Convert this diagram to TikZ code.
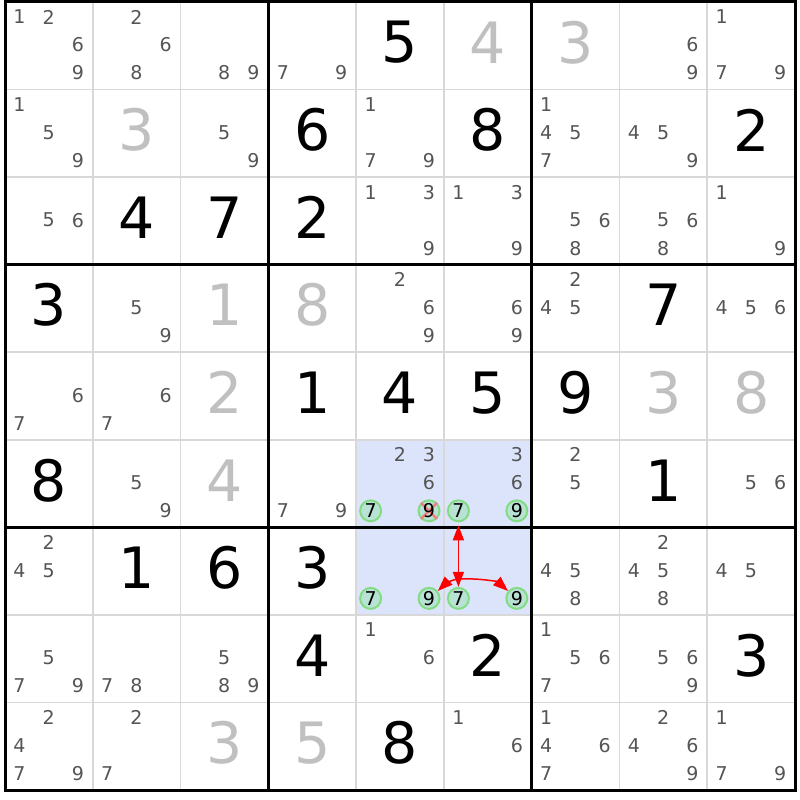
\documentclass[tikz,border=0pt]{standalone}
\usepackage{fontspec}
\setmainfont{DejaVu Sans}
\usetikzlibrary{arrows.meta,calc}
\definecolor{candc}{RGB}{85,85,85}
\definecolor{solvedc}{RGB}{192,192,192}
\definecolor{thinc}{RGB}{216,216,216}
\definecolor{hlc}{RGB}{220,228,252}
\definecolor{cfillc}{RGB}{184,226,212}
\definecolor{cringc}{RGB}{130,220,130}
\definecolor{xredc}{RGB}{240,128,128}
\tikzset{
  givenst/.style={inner sep=0pt, font=\fontsize{57}{57}\selectfont, text=black},
  solvedst/.style={inner sep=0pt, font=\fontsize{57}{57}\selectfont, text=solvedc},
  candst/.style={inner sep=0pt, font=\fontsize{19}{19}\selectfont, text=candc},
  ringst/.style={circle, inner sep=0pt, minimum size=21pt, draw=cringc, line width=2pt, fill=cfillc},
  ringdig/.style={inner sep=0pt, font=\fontsize{19}{19}\selectfont, text=black},
  xst/.style={draw=xredc, line width=2.5pt},
  thinst/.style={draw=thinc, line width=1.8pt},
  thickst/.style={draw=black, line width=3pt},
  redarr/.style={draw=red, line width=1.5pt, -{Triangle[length=15pt,width=11pt]}},
  redarrb/.style={draw=red, line width=1.5pt, {Triangle[length=15pt,width=11pt]}-{Triangle[length=15pt,width=11pt]}}
}
\newcommand\SudG[3]{%
  \pgfmathsetmacro\px{5+(#2-0.5)*87.78}%
  \pgfmathsetmacro\py{2+(#1-1)*87.56+40.5}%
  \node[givenst] (g#1#2) at (\px,\py) {#3};}
\newcommand\SudS[3]{%
  \pgfmathsetmacro\px{5+(#2-0.5)*87.78}%
  \pgfmathsetmacro\py{2+(#1-1)*87.56+40.5}%
  \node[solvedst] (s#1#2) at (\px,\py) {#3};}
\newcommand\SudC[3]{%
  \foreach \d in {#3}{%
    \pgfmathsetmacro\px{5+(#2-1)*87.78+14.5+29.2*mod(\d-1,3)}%
    \pgfmathsetmacro\py{2+(#1-1)*87.56+15+28*floor((\d-1)/3)}%
    \node[candst] (c#1#2n\d) at (\px,\py) {\d};}}
\newcommand\SudRing[3]{%
  \pgfmathsetmacro\px{5+(#2-1)*87.78+14.5+29.2*mod(#3-1,3)}%
  \pgfmathsetmacro\py{2+(#1-1)*87.56+15+28*floor((#3-1)/3)}%
  \node[ringst] (k#1#2n#3) at (\px,\py) {};}
\newcommand\SudRingDig[3]{%
  \node[ringdig] (d#1#2n#3) at (k#1#2n#3.center) {#3};}
\begin{document}
\begin{tikzpicture}[x=1pt,y=-1pt]
\useasboundingbox (0,0) rectangle (800,800);
\fill[white] (0,0) rectangle (800,800);
% highlighted cells
\fill[hlc] (5+4*87.78,2+5*87.56) rectangle (5+6*87.78,2+7*87.56);
% thin lines
\foreach \i in {1,2,4,5,7,8}{
  \draw[thinst] (5+\i*87.78,2) -- (5+\i*87.78,790);
  \draw[thinst] (5,2+\i*87.56) -- (795,2+\i*87.56);
}
% thick lines
\foreach \i in {3,6}{
  \draw[thickst] (5+\i*87.78,2) -- (5+\i*87.78,790);
  \draw[thickst] (5,2+\i*87.56) -- (795,2+\i*87.56);
}
\draw[thickst] (5,2) rectangle (795,790);
% given digits
\SudG{1}{5}{5}
\SudG{2}{4}{6} \SudG{2}{6}{8} \SudG{2}{9}{2}
\SudG{3}{2}{4} \SudG{3}{3}{7} \SudG{3}{4}{2}
\SudG{4}{1}{3} \SudG{4}{8}{7}
\SudG{5}{4}{1} \SudG{5}{5}{4} \SudG{5}{6}{5} \SudG{5}{7}{9}
\SudG{6}{1}{8} \SudG{6}{8}{1}
\SudG{7}{2}{1} \SudG{7}{3}{6} \SudG{7}{4}{3}
\SudG{8}{4}{4} \SudG{8}{6}{2} \SudG{8}{9}{3}
\SudG{9}{5}{8}
% solved digits
\SudS{1}{6}{4} \SudS{1}{7}{3}
\SudS{2}{2}{3}
\SudS{4}{3}{1} \SudS{4}{4}{8}
\SudS{5}{3}{2} \SudS{5}{8}{3} \SudS{5}{9}{8}
\SudS{6}{3}{4}
\SudS{9}{3}{3} \SudS{9}{4}{5}
% candidates
\SudC{1}{1}{1,2,6,9} \SudC{1}{2}{2,6,8} \SudC{1}{3}{8,9} \SudC{1}{4}{7,9} \SudC{1}{8}{6,9} \SudC{1}{9}{1,7,9}
\SudC{2}{1}{1,5,9} \SudC{2}{3}{5,9} \SudC{2}{5}{1,7,9} \SudC{2}{7}{1,4,5,7} \SudC{2}{8}{4,5,9}
\SudC{3}{1}{5,6} \SudC{3}{5}{1,3,9} \SudC{3}{6}{1,3,9} \SudC{3}{7}{5,6,8} \SudC{3}{8}{5,6,8} \SudC{3}{9}{1,9}
\SudC{4}{2}{5,9} \SudC{4}{5}{2,6,9} \SudC{4}{6}{6,9} \SudC{4}{7}{2,4,5} \SudC{4}{9}{4,5,6}
\SudC{5}{1}{6,7} \SudC{5}{2}{6,7}
\SudC{6}{2}{5,9} \SudC{6}{4}{7,9} \SudC{6}{5}{2,3,6} \SudC{6}{6}{3,6} \SudC{6}{7}{2,5} \SudC{6}{9}{5,6}
\SudC{7}{1}{2,4,5} \SudC{7}{7}{4,5,8} \SudC{7}{8}{2,4,5,8} \SudC{7}{9}{4,5}
\SudC{8}{1}{5,7,9} \SudC{8}{2}{7,8} \SudC{8}{3}{5,8,9} \SudC{8}{5}{1,6} \SudC{8}{7}{1,5,6,7} \SudC{8}{8}{5,6,9}
\SudC{9}{1}{2,4,7,9} \SudC{9}{2}{2,7} \SudC{9}{6}{1,6} \SudC{9}{7}{1,4,6,7} \SudC{9}{8}{2,4,6,9} \SudC{9}{9}{1,7,9}
% circled candidates
\SudRing{6}{5}{7} \SudRing{6}{5}{9} \SudRing{6}{6}{7} \SudRing{6}{6}{9}
\SudRing{7}{5}{7} \SudRing{7}{5}{9} \SudRing{7}{6}{7} \SudRing{7}{6}{9}
\draw[xst] ($(k65n9)+(-8,-8)$) -- ($(k65n9)+(8,8)$);
\draw[xst] ($(k65n9)+(8,-8)$) -- ($(k65n9)+(-8,8)$);
\SudRingDig{6}{5}{7} \SudRingDig{6}{5}{9} \SudRingDig{6}{6}{7} \SudRingDig{6}{6}{9}
\SudRingDig{7}{5}{7} \SudRingDig{7}{5}{9} \SudRingDig{7}{6}{7} \SudRingDig{7}{6}{9}
% arrows
\draw[redarrb, shorten <=3pt] (k66n7) -- (k76n7);
\coordinate (apex) at (460,579);
\draw[redarr] (apex) .. controls (452,579) and (444,585) .. (k75n9.40);
\draw[redarr] (apex) .. controls (480,578) and (498,582) .. (k76n9.140);
\end{tikzpicture}
\end{document}
